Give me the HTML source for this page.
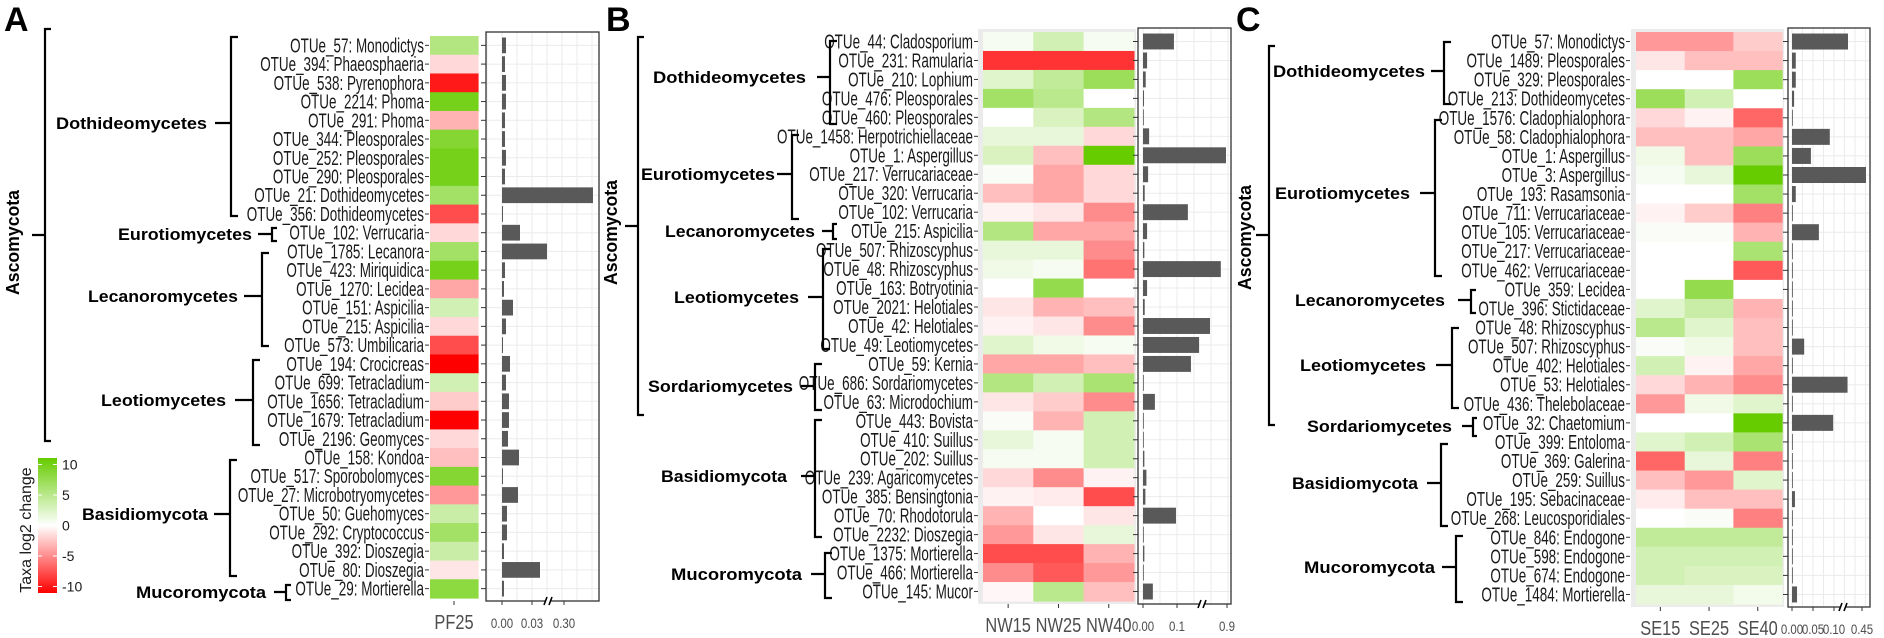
<!DOCTYPE html>
<html><head><meta charset="utf-8">
<style>
html,body{margin:0;padding:0;background:#fff;}
svg{display:block;}
.otu{font-family:"Liberation Sans Narrow","Liberation Sans",sans-serif;font-size:20px;fill:#1a1a1a;}
.cls{font-family:"Liberation Sans",sans-serif;font-weight:bold;font-size:17px;fill:#000;}
.panel{font-family:"Liberation Sans",sans-serif;font-weight:bold;font-size:34px;fill:#000;}
.axl{font-family:"Liberation Sans Narrow","Liberation Sans",sans-serif;font-size:20px;fill:#4d4d4d;}
.tkl{font-family:"Liberation Sans Narrow","Liberation Sans",sans-serif;font-size:14px;fill:#4d4d4d;}
</style></head>
<body>
<svg id="fig" width="1884" height="638" viewBox="0 0 1884 638" xmlns="http://www.w3.org/2000/svg">
<defs>
<linearGradient id="cbar" x1="0" y1="0" x2="0" y2="1">
<stop offset="0" stop-color="#66cc00"/><stop offset="0.5" stop-color="#ffffff"/><stop offset="1" stop-color="#ff0000"/>
</linearGradient>
</defs>
<text class="panel" x="4" y="31">A</text>
<text class="panel" x="606" y="31">B</text>
<text class="panel" x="1236" y="31">C</text>
<g>
<rect x="38" y="458" width="19" height="135" fill="url(#cbar)"/>
<text transform="translate(31,530) rotate(-90)" text-anchor="middle" class="tkl" style="font-size:16px;fill:#1a1a1a">Taxa log2 change</text>
</g>
</svg>
<script>
// ---------- Panel A data ----------
const aOtus=["OTUe_57: Monodictys","OTUe_394: Phaeosphaeria","OTUe_538: Pyrenophora","OTUe_2214: Phoma","OTUe_291: Phoma","OTUe_344: Pleosporales","OTUe_252: Pleosporales","OTUe_290: Pleosporales","OTUe_21: Dothideomycetes","OTUe_356: Dothideomycetes","OTUe_102: Verrucaria","OTUe_1785: Lecanora","OTUe_423: Miriquidica","OTUe_1270: Lecidea","OTUe_151: Aspicilia","OTUe_215: Aspicilia","OTUe_573: Umbilicaria","OTUe_194: Crocicreas","OTUe_699: Tetracladium","OTUe_1656: Tetracladium","OTUe_1679: Tetracladium","OTUe_2196: Geomyces","OTUe_158: Kondoa","OTUe_517: Sporobolomyces","OTUe_27: Microbotryomycetes","OTUe_50: Guehomyces","OTUe_292: Cryptococcus","OTUe_392: Dioszegia","OTUe_80: Dioszegia","OTUe_29: Mortierella"];
const aPF25=[5,-1.5,-9,9,-3,8,9,9,6,-7,-1.5,6,9,-3.5,3,-1.5,-7,-10,3,-2,-10,-1.5,-2.5,8,-4,3.5,6,3.5,-1,7.5];
const aBars=[0.004,0.003,0.004,0.004,0.003,0.003,0.004,0.003,0.76,0.001,0.018,0.045,0.003,0.002,0.011,0.004,0.001,0.008,0.004,0.007,0.007,0.006,0.017,0.001,0.016,0.005,0.005,0.002,0.038,0.002];
const aCols=["PF25"];
const aTicks=[0,0.03,0.30];
const aTickLabels=["0.00","0.03","0.30"];
// ---------- Panel B data ----------
const bOtus=["OTUe_44: Cladosporium","OTUe_231: Ramularia","OTUe_210: Lophium","OTUe_476: Pleosporales","OTUe_460: Pleosporales","OTUe_1458: Herpotrichiellaceae","OTUe_1: Aspergillus","OTUe_217: Verrucariaceae","OTUe_320: Verrucaria","OTUe_102: Verrucaria","OTUe_215: Aspicilia","OTUe_507: Rhizoscyphus","OTUe_48: Rhizoscyphus","OTUe_163: Botryotinia","OTUe_2021: Helotiales","OTUe_42: Helotiales","OTUe_49: Leotiomycetes","OTUe_59: Kernia","OTUe_686: Sordariomycetes","OTUe_63: Microdochium","OTUe_443: Bovista","OTUe_410: Suillus","OTUe_202: Suillus","OTUe_239: Agaricomycetes","OTUe_385: Bensingtonia","OTUe_70: Rhodotorula","OTUe_2232: Dioszegia","OTUe_1375: Mortierella","OTUe_466: Mortierella","OTUe_145: Mucor"];
const bNW15=[0.5,-8,2,6,0,1.5,2.5,0.3,-2.5,-0.5,5,1.5,1,0,-1,-0.5,2,-3.5,5,-1,0.3,1.5,0.5,-1.5,-0.5,-3,-4,-7,-4.5,-0.3];
const bNW25=[3,-8,4,4.5,2.5,1.5,-2.5,-3.5,-3.5,-1,-3.5,1.5,0.5,7,-3,-1,1,-3.5,3,-2,-3,0.5,0.5,-4.5,-0.8,0,-1,-7,-6.5,4.5];
const bNW40=[0.5,-8,6.5,0,5,-1.5,10,-1.5,-1.5,-4.5,-3.5,-4.5,-5.5,0,-2.5,-4.5,0.5,-2.5,5.5,-4.5,3,3,3,-0.5,-7,-1,1.5,-3,-4,-2.5];
const bBars=[0.091,0.012,0.008,0.003,0.001,0.018,0.871,0.015,0.005,0.132,0.012,0.004,0.72,0.012,0.005,0.406,0.165,0.141,0.002,0.035,0.001,0.001,0.004,0.010,0.007,0.097,0.001,0.004,0.001,0.029];
const bCols=["NW15","NW25","NW40"];
const bTicks=[0,0.1,0.9];
const bTickLabels=["0.00","0.1","0.9"];
// ---------- Panel C data ----------
const cOtus=["OTUe_57: Monodictys","OTUe_1489: Pleosporales","OTUe_329: Pleosporales","OTUe_213: Dothideomycetes","OTUe_1576: Cladophialophora","OTUe_58: Cladophialophora","OTUe_1: Aspergillus","OTUe_3: Aspergillus","OTUe_193: Rasamsonia","OTUe_711: Verrucariaceae","OTUe_105: Verrucariaceae","OTUe_217: Verrucariaceae","OTUe_462: Verrucariaceae","OTUe_359: Lecidea","OTUe_396: Stictidaceae","OTUe_48: Rhizoscyphus","OTUe_507: Rhizoscyphus","OTUe_402: Helotiales","OTUe_53: Helotiales","OTUe_436: Thelebolaceae","OTUe_32: Chaetomium","OTUe_399: Entoloma","OTUe_369: Galerina","OTUe_259: Suillus","OTUe_195: Sebacinaceae","OTUe_268: Leucosporidiales","OTUe_846: Endogone","OTUe_598: Endogone","OTUe_674: Endogone","OTUe_1484: Mortierella"];
const cSE15=[-4,-1,0,6.5,-1.5,-2.5,1,0.5,0,-0.5,0.3,0,0,0,2,4.5,0.3,3,-1.5,-4,0,2,-6,-2.5,-0.8,0,4,3,3,1.5];
const cSE25=[-4,-2.5,0,3,-0.5,-2.5,-2.5,1.5,0,-2,0.3,0,0,7,3.5,2,1,-0.5,-3,1,0,3,1.5,-4,-2.5,0.3,4,3,2.5,1.5];
const cSE40=[-2,-2.5,6.5,0,-6,-3.5,6.5,10,6,-5,-3,5.5,-6.5,0,-3,-2.5,-2.5,-3.5,-4.5,2,10,5.5,-5,2,-2.5,-5,4,3,2.5,0.8];
const cBars=[0.208,0.009,0.009,0.005,0.002,0.090,0.045,0.519,0.009,0.002,0.064,0.002,0.002,0.002,0.002,0.002,0.029,0.002,0.2,0.002,0.098,0.002,0.002,0.002,0.007,0.002,0.002,0.002,0.002,0.012];
const cCols=["SE15","SE25","SE40"];
const cTicks=[0,0.05,0.10,0.45];
const cTickLabels=["0.00","0.05","0.10","0.45"];
const legendTicks=[10,5,0,-5,-10];

const NS="http://www.w3.org/2000/svg";
const svg=document.getElementById('fig');
function mk(tag,attrs,parent){const e=document.createElementNS(NS,tag);for(const k in attrs)e.setAttribute(k,attrs[k]);(parent||svg).appendChild(e);return e;}
const probe=mk('text',{class:'otu',x:0,y:-50});
probe.textContent="OTUe_57: Monodictys";
const OTUF=Math.min(1,134/probe.getComputedTextLength());
probe.remove();
function squeeze(t,x,f){t.setAttribute('transform',`translate(${x},0) scale(${f},1) translate(${-x},0)`);}
function colorOf(v){
  const t=Math.max(-1,Math.min(1,v/10));
  let r,g,b;
  if(t>=0){r=255+(102-255)*t;g=255+(204-255)*t;b=255+(0-255)*t;}
  else{const s=-t;r=255;g=255*(1-s);b=255*(1-s);}
  return `rgb(${Math.round(r)},${Math.round(g)},${Math.round(b)})`;
}
function bracket(g,x,y1,y2,yc,len,hook){
  const p=mk('path',{d:`M${x+hook},${y1} L${x},${y1} L${x},${y2} L${x+hook},${y2} M${x},${yc} L${x-len},${yc}`,fill:'none',stroke:'#000','stroke-width':2.2},g);
  
  
}
function clsLabel(g,txt,x1,x2,yc,name){
  const t=mk('text',{class:'cls',x:x1,y:yc+6,textLength:x2-x1,lengthAdjust:'spacingAndGlyphs'},g);
  t.textContent=txt;
  
  
}
function vertLabel(g,txt,xc,y1,y2,name){
  const t=mk('text',{class:'cls',transform:`translate(${xc+6},${y2}) rotate(-90)`,x:0,y:0,textLength:y2-y1,lengthAdjust:'spacingAndGlyphs',style:'font-size:18px'},g);
  t.textContent=txt;
  
  
}

function panel(P){
  const g=mk('g',{});
  
  
  const n=P.otus.length, rh=(P.rowBot-P.rowTop)/n;
  const yc=i=>P.rowTop+rh*(i+0.5);
  if(P.grey){const bg=mk('rect',{x:P.grey[0],y:P.rowTop-3,width:P.grey[1]-P.grey[0],height:P.rowBot-P.rowTop+6,fill:'#ebebeb'},g);}
  P.series.forEach((s,j)=>{
    s.forEach((v,i)=>{
      const r=mk('rect',{x:P.hx+j*P.hw,y:P.rowTop+i*rh,width:P.hw+0.6,height:rh+0.6,fill:colorOf(v)},g);
      
      
    });
    const cx=P.hx+(j+0.5)*P.hw;
    mk('line',{x1:cx,x2:cx,y1:P.rowBot+3,y2:P.rowBot+7,stroke:'#333','stroke-width':1},g);
    const t=mk('text',{class:'axl',x:cx,y:P.rowBot+31,'text-anchor':'middle'},g);
    t.textContent=P.cols[j];
    
    
    squeeze(t,cx,0.82);
  });
  P.otus.forEach((o,i)=>{
    const t=mk('text',{class:'otu',x:P.lx,y:yc(i)+7,'text-anchor':'end'},g);
    t.textContent=o;
    
    
    squeeze(t,P.lx,OTUF);
    mk('line',{x1:P.lx+1,x2:P.lx+5,y1:yc(i),y2:yc(i),stroke:'#333','stroke-width':1},g);
  });
  const S=P.scale;
  const bv=(S.bx-S.z)/S.k;
  const sx=v=> v<=bv ? S.z+v*S.k : S.bx+(v-bv)*(S.tx-S.bx)/(S.tv-bv);
  const by1=P.rowTop-4, by2=P.rowBot+3;
  mk('rect',{x:P.bb[0],y:by1,width:P.bb[1]-P.bb[0],height:by2-by1,fill:'#fff'},g);
  for(let x=S.z-S.step;x<P.bb[1];x+=S.step/2){ if(x>P.bb[0]) mk('line',{x1:x,x2:x,y1:by1,y2:by2,stroke:'#ebebeb','stroke-width':1},g);}
  for(let i=0;i<n;i++) mk('line',{x1:P.bb[0],x2:P.bb[1],y1:yc(i),y2:yc(i),stroke:'#ebebeb','stroke-width':1},g);
  P.bars.forEach((v,i)=>{
    const x2=sx(v);
    const r=mk('rect',{x:S.z,y:yc(i)-rh*0.42,width:Math.max(0.8,x2-S.z),height:rh*0.84,fill:'#595959'},g);
    
    
    mk('line',{x1:P.bb[0]-5,x2:P.bb[0],y1:yc(i),y2:yc(i),stroke:'#333','stroke-width':1},g);
  });
  mk('rect',{x:P.bb[0],y:by1,width:P.bb[1]-P.bb[0],height:by2-by1,fill:'none',stroke:'#333','stroke-width':1.3},g);
  P.ticks.forEach((v,j)=>{
    const x=sx(v);
    mk('line',{x1:x,x2:x,y1:by2,y2:by2+4,stroke:'#333','stroke-width':1},g);
    const t=mk('text',{class:'tkl',x:x,y:by2+27,'text-anchor':'middle'},g);
    t.textContent=P.tickLabels[j];
    
    
    squeeze(t,x,0.82);
  });
  mk('rect',{x:S.bx-3,y:by2-3,width:6,height:6,fill:'#fff'},g);
  mk('path',{d:`M${S.bx-4},${by2+4} L${S.bx-1},${by2-4} M${S.bx+1},${by2+4} L${S.bx+4},${by2-4}`,stroke:'#000','stroke-width':1.6},g);
  const A=P.asco;
  vertLabel(g,'Ascomycota',A.lx,A.ly1,A.ly2,'phylum-label-ascomycota');
  bracket(g,A.x,A.y1,A.y2,A.yc,A.len,6);
  P.groups.forEach(G=>{
    clsLabel(g,G.t,G.x1,G.x2,G.yc,'group-label');
    bracket(g,G.bx,G.y1,G.y2,G.yc,G.len,G.hook||7);
  });
}

panel({name:'panel-a',otus:aOtus,series:[aPF25],bars:aBars,cols:aCols,ticks:aTicks,tickLabels:aTickLabels,
  rowTop:36,rowBot:598,hx:430,hw:48,lx:424,grey:null,bb:[486,599],
  scale:{z:502,k:1000,bx:548,tv:0.30,tx:564,step:30},
  asco:{lx:13,ly1:190,ly2:295,x:45,y1:29,y2:441,yc:235,len:13},
  groups:[
   {t:'Dothideomycetes',x1:56,x2:207,yc:123,bx:231,y1:37,y2:216,len:16},
   {t:'Eurotiomycetes',x1:118,x2:252,yc:234,bx:272,y1:228,y2:241,len:14,hook:5},
   {t:'Lecanoromycetes',x1:88,x2:238,yc:296,bx:262,y1:253,y2:346,len:18},
   {t:'Leotiomycetes',x1:101,x2:226,yc:400,bx:253,y1:360,y2:445,len:18},
   {t:'Basidiomycota',x1:82,x2:208,yc:514,bx:230,y1:460,y2:576,len:16},
   {t:'Mucoromycota',x1:136,x2:266,yc:592,bx:286,y1:585,y2:600,len:12,hook:5}
  ]});
panel({name:'panel-b',otus:bOtus,series:[bNW15,bNW25,bNW40],bars:bBars,cols:bCols,ticks:bTicks,tickLabels:bTickLabels,
  rowTop:32,rowBot:601,hx:983,hw:50.3,lx:973,grey:[978,1136],bb:[1138,1231],
  scale:{z:1143,k:340,bx:1202,tv:0.9,tx:1227,step:34},
  asco:{lx:611,ly1:180,ly2:285,x:638,y1:37,y2:415,yc:226,len:13},
  groups:[
   {t:'Dothideomycetes',x1:653,x2:806,yc:77,bx:830,y1:41,y2:124,len:13},
   {t:'Eurotiomycetes',x1:641,x2:775,yc:174,bx:792,y1:135,y2:219,len:15},
   {t:'Lecanoromycetes',x1:665,x2:815,yc:231,bx:833,y1:224,y2:239,len:11,hook:4},
   {t:'Leotiomycetes',x1:674,x2:799,yc:297,bx:823,y1:249,y2:349,len:15},
   {t:'Sordariomycetes',x1:648,x2:793,yc:386,bx:815,y1:364,y2:410,len:14},
   {t:'Basidiomycota',x1:661,x2:787,yc:476,bx:815,y1:420,y2:537,len:14},
   {t:'Mucoromycota',x1:671,x2:802,yc:574,bx:825,y1:553,y2:598,len:14}
  ]});
panel({name:'panel-c',otus:cOtus,series:[cSE15,cSE25,cSE40],bars:cBars,cols:cCols,ticks:cTicks,tickLabels:cTickLabels,
  rowTop:32,rowBot:604,hx:1636,hw:48.7,lx:1625,grey:[1631,1784],bb:[1788,1870],
  scale:{z:1792,k:420,bx:1843,tv:0.45,tx:1862,step:21},
  asco:{lx:1245,ly1:185,ly2:290,x:1269,y1:46,y2:425,yc:235,len:13},
  groups:[
   {t:'Dothideomycetes',x1:1273,x2:1425,yc:71,bx:1444,y1:42,y2:104,len:13},
   {t:'Eurotiomycetes',x1:1275,x2:1410,yc:193,bx:1435,y1:120,y2:276,len:15},
   {t:'Lecanoromycetes',x1:1295,x2:1445,yc:300,bx:1471,y1:290,y2:313,len:13,hook:5},
   {t:'Leotiomycetes',x1:1300,x2:1426,yc:365,bx:1452,y1:328,y2:408,len:16},
   {t:'Sordariomycetes',x1:1307,x2:1452,yc:426,bx:1473,y1:418,y2:436,len:11,hook:4},
   {t:'Basidiomycota',x1:1292,x2:1418,yc:483,bx:1441,y1:444,y2:526,len:14},
   {t:'Mucoromycota',x1:1304,x2:1435,yc:567,bx:1456,y1:536,y2:602,len:14}
  ]});

legendTicks.forEach(v=>{
  const y=525.5-v*6.1;
  mk('line',{x1:38,x2:42,y1:y,y2:y,stroke:'#fff','stroke-width':1});
  mk('line',{x1:53,x2:57,y1:y,y2:y,stroke:'#fff','stroke-width':1});
  const t=mk('text',{class:'tkl',x:62,y:y+5,style:'font-size:14px;fill:#1a1a1a'});
  t.textContent=String(v);
  
  
});
</script>
</body></html>
